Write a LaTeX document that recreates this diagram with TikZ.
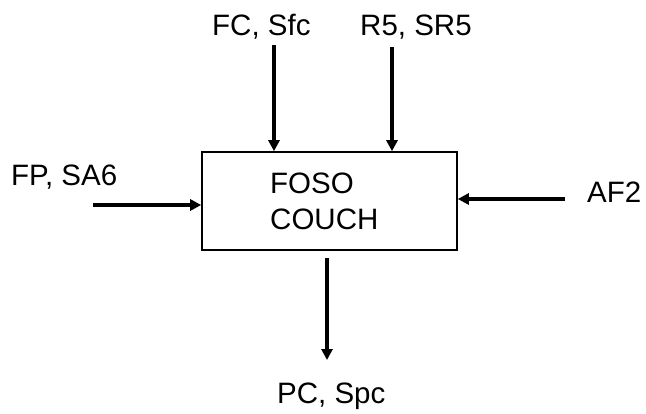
\documentclass[tikz,border=0pt]{standalone}
\usepackage{fontspec}
\setmainfont{Liberation Sans}
\usetikzlibrary{arrows.meta}
\begin{document}
\begin{tikzpicture}[x=1pt,y=-1pt,
  lbl/.style={inner sep=0pt,anchor=base west,font=\fontsize{29.5}{34}\selectfont},
  flow/.style={line width=3.4pt,-{Triangle[length=11pt,width=11pt]}},
  blk/.style={draw,line width=1.6pt,inner sep=0pt,minimum width=255pt,minimum height=98pt}]
\useasboundingbox (0,0) rectangle (646,413);
\node[blk] (box) at (329.5,201) {};
\node[lbl] (foso) at (270,193) {FOSO};
\node[lbl] (couch) at (270,229) {COUCH};
\node[lbl] (fc) at (212,35) {FC, Sfc};
\node[lbl] (r5) at (360,35) {R5, SR5};
\node[lbl] (fp) at (11,185) {FP, SA6};
\node[lbl] (af) at (587,202) {AF2};
\node[lbl] (pc) at (277,403) {PC, Spc};
\coordinate (fcs) at (274,45);
\coordinate (r5s) at (392,47);
\coordinate (fps) at (93,205);
\coordinate (afs) at (565,199);
\coordinate (pce) at (327,360);
\draw[flow] (fcs) -- (fcs |- box.north);
\draw[flow] (r5s) -- (r5s |- box.north);
\draw[flow] (fps) -- (fps -| box.west);
\draw[flow] (afs) -- (afs -| box.east);
\draw[flow] (box.south -| pce) ++(0,7) -- (pce);
\end{tikzpicture}
\end{document}
